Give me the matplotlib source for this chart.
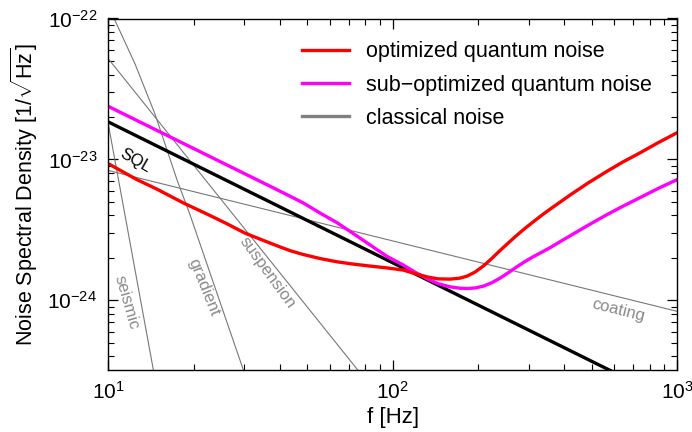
import matplotlib
matplotlib.use("Agg")
import matplotlib.pyplot as plt
from matplotlib.lines import Line2D

plt.rcParams['font.family'] = ['Liberation Sans', 'DejaVu Sans']
plt.rcParams['mathtext.fontset'] = 'custom'
plt.rcParams['mathtext.rm'] = 'Liberation Sans'
plt.rcParams['mathtext.it'] = 'Liberation Sans:italic'
plt.rcParams['mathtext.bf'] = 'Liberation Sans:bold'

# ---- data ----
opt_f = [10.0, 12.58, 14.80, 18.35, 22.47, 26.14, 30.24, 34.69, 40.14, 43.87,
         48.47, 55.48, 63.5, 72.46, 83.18, 95.2, 108.9, 121.3, 133.0, 144.2,
         158.9, 172.3, 182.4, 194.5, 208.0, 222.7, 238.2, 254.7, 272.6, 291.6,
         311.8, 333.8, 356.9, 387.0, 419.6, 485.5, 564.9, 644.3, 739.6, 855.3, 1000.0]
opt_psd = [9.32e-24, 7.20e-24, 6.16e-24, 4.91e-24, 4.05e-24, 3.49e-24, 2.995e-24,
           2.683e-24, 2.391e-24, 2.239e-24, 2.113e-24, 1.979e-24, 1.877e-24,
           1.807e-24, 1.749e-24, 1.698e-24, 1.638e-24, 1.534e-24, 1.460e-24,
           1.419e-24, 1.413e-24, 1.436e-24, 1.484e-24, 1.585e-24, 1.749e-24,
           1.979e-24, 2.257e-24, 2.553e-24, 2.888e-24, 3.241e-24, 3.607e-24,
           4.015e-24, 4.43e-24, 4.97e-24, 5.578e-24, 6.795e-24, 8.21e-24,
           9.596e-24, 1.113e-23, 1.312e-23, 1.549e-23]

sub_f = [10.0, 38.02, 43.52, 48.47, 55.48, 63.5, 72.46, 83.18, 95.2, 108.9,
         121.3, 133.0, 144.2, 158.9, 172.3, 182.4, 194.5, 208.0, 222.7, 238.2,
         254.7, 272.6, 291.6, 311.8, 333.8, 356.9, 387.0, 419.6, 485.5, 564.9,
         644.3, 739.6, 855.3, 1000.0]
sub_psd = [2.378e-23, 6.28e-24, 5.478e-24, 4.906e-24, 4.162e-24, 3.565e-24,
           2.985e-24, 2.471e-24, 2.055e-24, 1.778e-24, 1.559e-24, 1.413e-24,
           1.312e-24, 1.245e-24, 1.218e-24, 1.212e-24, 1.222e-24, 1.259e-24,
           1.331e-24, 1.436e-24, 1.569e-24, 1.726e-24, 1.884e-24, 2.039e-24,
           2.194e-24, 2.36e-24, 2.604e-24, 2.865e-24, 3.405e-24, 4.046e-24,
           4.655e-24, 5.353e-24, 6.208e-24, 7.195e-24]

sql_f = [10.0, 1000.0]
sql_psd = [1.845e-23, 1.845e-25]

seismic_f = [10.0, 14.42]
seismic_psd = [1.78e-23, 3.16e-25]

gradient_f = [10.41, 12.41, 14.59, 17.42, 19.37, 29.9]
gradient_psd = [1.03e-22, 4.77e-23, 2.10e-23, 7.2e-24, 4.05e-24, 3.16e-25]

suspension_f = [10.0, 75.7]
suspension_psd = [5.18e-23, 3.16e-25]

coating_f = [10.0, 1000.0]
coating_psd = [8.34e-24, 8.34e-25]

legend_labels = ['optimized quantum noise', 'sub\u2212optimized quantum noise', 'classical noise']
classical_labels = ['seismic', 'gradient', 'suspension', 'coating']

# ---- figure ----
fig = plt.figure(figsize=(6.92, 4.32), dpi=100)
ax = fig.add_axes([108.3/692, 1-370/432, (677.3-108.3)/692, (370-18.5)/432])

gray = '#777777'
lw_c = 0.8
ax.plot(seismic_f, seismic_psd, color=gray, lw=lw_c)
ax.plot(gradient_f, gradient_psd, color=gray, lw=lw_c)
ax.plot(suspension_f, suspension_psd, color=gray, lw=lw_c)
ax.plot(coating_f, coating_psd, color=gray, lw=lw_c)

ax.plot(sql_f, sql_psd, color='black', lw=2.4, solid_capstyle='butt')
ax.plot(sub_f, sub_psd, color='#ff00ff', lw=2.4, solid_joinstyle='round')
ax.plot(opt_f, opt_psd, color='#ff0000', lw=2.4, solid_joinstyle='round')

ax.set_xscale('log')
ax.set_yscale('log')
ax.set_xlim(10, 1000)
ax.set_ylim(3.2e-25, 1e-22)

ax.tick_params(which='both', direction='in', top=True, right=True, labelsize=15)
ax.tick_params(which='major', length=7, width=0.9, pad=8)
ax.tick_params(which='minor', length=4, width=0.8)
for s in ax.spines.values():
    s.set_linewidth(1.0)

ax.set_xlabel('f [Hz]', fontsize=16, labelpad=3)
ax.set_ylabel(r'Noise Spectral Density [1/$\sqrt{\mathrm{Hz}}$]', fontsize=15.5, labelpad=5)

lab_col = '#8a8a8a'
ax.text(11.6, 9.7e-25, classical_labels[0], rotation=-74, color=lab_col, fontsize=12,
        ha='center', va='center', rotation_mode='anchor')
ax.text(21.7, 1.23e-24, classical_labels[1], rotation=-68, color=lab_col, fontsize=12,
        ha='center', va='center', rotation_mode='anchor')
ax.text(36.3, 1.56e-24, classical_labels[2], rotation=-54, color=lab_col, fontsize=12,
        ha='center', va='center', rotation_mode='anchor')
ax.text(619, 8.5e-25, classical_labels[3], rotation=-14, color=lab_col, fontsize=12,
        ha='center', va='center', rotation_mode='anchor')
ax.text(12.5, 9.8e-24, 'SQL', rotation=-30, color='black', fontsize=12,
        ha='center', va='center', rotation_mode='anchor')

handles = [Line2D([], [], color='#ff0000', lw=2.4),
           Line2D([], [], color='#ff00ff', lw=2.4),
           Line2D([], [], color='#808080', lw=2.4)]
fig.legend(handles, legend_labels, loc='upper left',
           bbox_to_anchor=(301.7/692, 1-41.5/432), frameon=False, fontsize=15.5,
           handlelength=2.2, handletextpad=0.8, labelspacing=0.56,
           borderpad=0, borderaxespad=0)

fig.savefig('out.png', dpi=100)
